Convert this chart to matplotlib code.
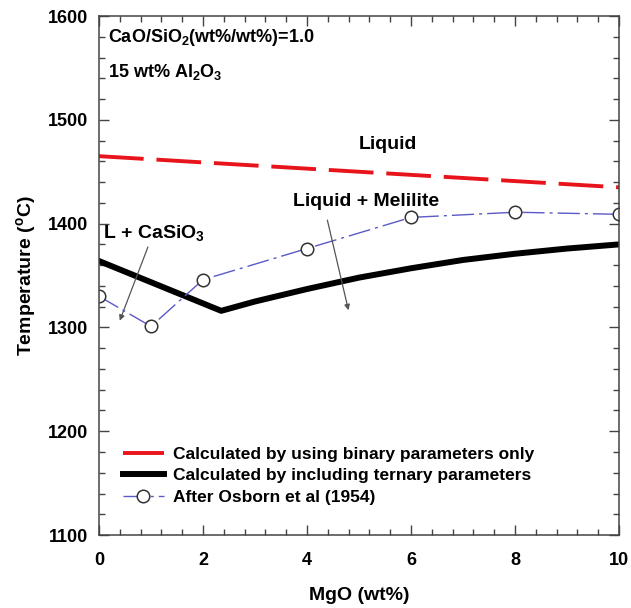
import matplotlib.pyplot as plt
from matplotlib.ticker import MultipleLocator

plt.rcParams['font.family'] = ['Liberation Sans', 'DejaVu Sans']
plt.rcParams['font.weight'] = 'bold'

# 液相线数据
mgo_binary = [0, 2, 4, 6, 8, 10]
t_binary = [1465, 1459, 1453, 1447, 1441, 1435]

mgo_ternary = [0, 2.35, 3, 4, 5, 6, 7, 8, 9, 10]
t_ternary = [1364, 1316, 1325, 1337, 1348, 1357, 1365, 1371, 1376, 1380]

mgo_osborn = [0, 1, 2, 4, 6, 8, 10]
t_osborn = [1330, 1301, 1346, 1376, 1406, 1411, 1409]

labels = ['Calculated by using binary parameters only',
          'Calculated by including ternary parameters',
          'After Osborn et al (1954)']

fig = plt.figure(figsize=(6.31, 6.08), dpi=100)
ax = fig.add_axes([0.1569, 0.120, 0.824, 0.8536])

l1, = ax.plot(mgo_binary, t_binary, color='#e8141c', lw=2.8, label=labels[0])
l1.set_dashes((11.5, 3.3))
ax.plot(mgo_ternary, t_ternary, color='black', lw=4.3, label=labels[1])
l3, = ax.plot(mgo_osborn, t_osborn, color='#5a5ac8', lw=1.0, marker='o',
              markersize=9, markerfacecolor='white', markeredgecolor='#333333',
              markeredgewidth=1.1, label=labels[2])
l3.set_dashes((16, 3.6, 2.2, 3.6))

ax.set_xlim(0, 10)
ax.set_ylim(1100, 1600)
ax.xaxis.set_major_locator(MultipleLocator(2))
ax.xaxis.set_minor_locator(MultipleLocator(0.4))
ax.yaxis.set_major_locator(MultipleLocator(100))
ax.yaxis.set_minor_locator(MultipleLocator(20))
ax.tick_params(which='both', direction='in', top=True, right=True,
               labelsize=13, color='#444444', width=1)
ax.tick_params(which='major', length=7, pad=8)
ax.tick_params(which='minor', length=4)
ax.tick_params(axis='x', which='major', pad=12)
for s in ax.spines.values():
    s.set_color('#444444')
    s.set_linewidth(1.1)

ax.set_xlabel('MgO (wt%)', fontsize=14, fontweight='bold', labelpad=13)
ax.set_ylabel('Temperature ($^\\mathregular{o}$C)', fontsize=14,
              fontweight='bold', labelpad=6)

ax.text(0.017, 0.958, 'CaO/SiO$_\\mathregular{2}$(wt%/wt%)=1.0',
        transform=ax.transAxes, fontsize=13, va='center', ha='left')
ax.text(0.017, 0.892, '15 wt% Al$_\\mathregular{2}$O$_\\mathregular{3}$',
        transform=ax.transAxes, fontsize=13, va='center', ha='left')

ax.text(5.56, 1476, 'Liquid', fontsize=14, ha='center', va='center')
ax.text(5.13, 1421, 'Liquid + Melilite', fontsize=14, ha='center', va='center')
ax.text(0.08, 1390, 'L + CaSiO$_\\mathregular{3}$', fontsize=14, ha='left',
        va='center')

arrow = dict(arrowstyle='-|>', color='#555555', lw=0.9, mutation_scale=8)
ax.annotate('', xy=(0.38, 1304), xytext=(0.96, 1380), arrowprops=arrow)
ax.annotate('', xy=(4.81, 1314), xytext=(4.38, 1406), arrowprops=arrow)

ax.legend(frameon=False, loc='upper left', bbox_to_anchor=(0.032, 0.183),
          fontsize=12.5, handlelength=2.4, handletextpad=0.5,
          labelspacing=0.35, borderaxespad=0)

fig.savefig('out.png', dpi=100)
